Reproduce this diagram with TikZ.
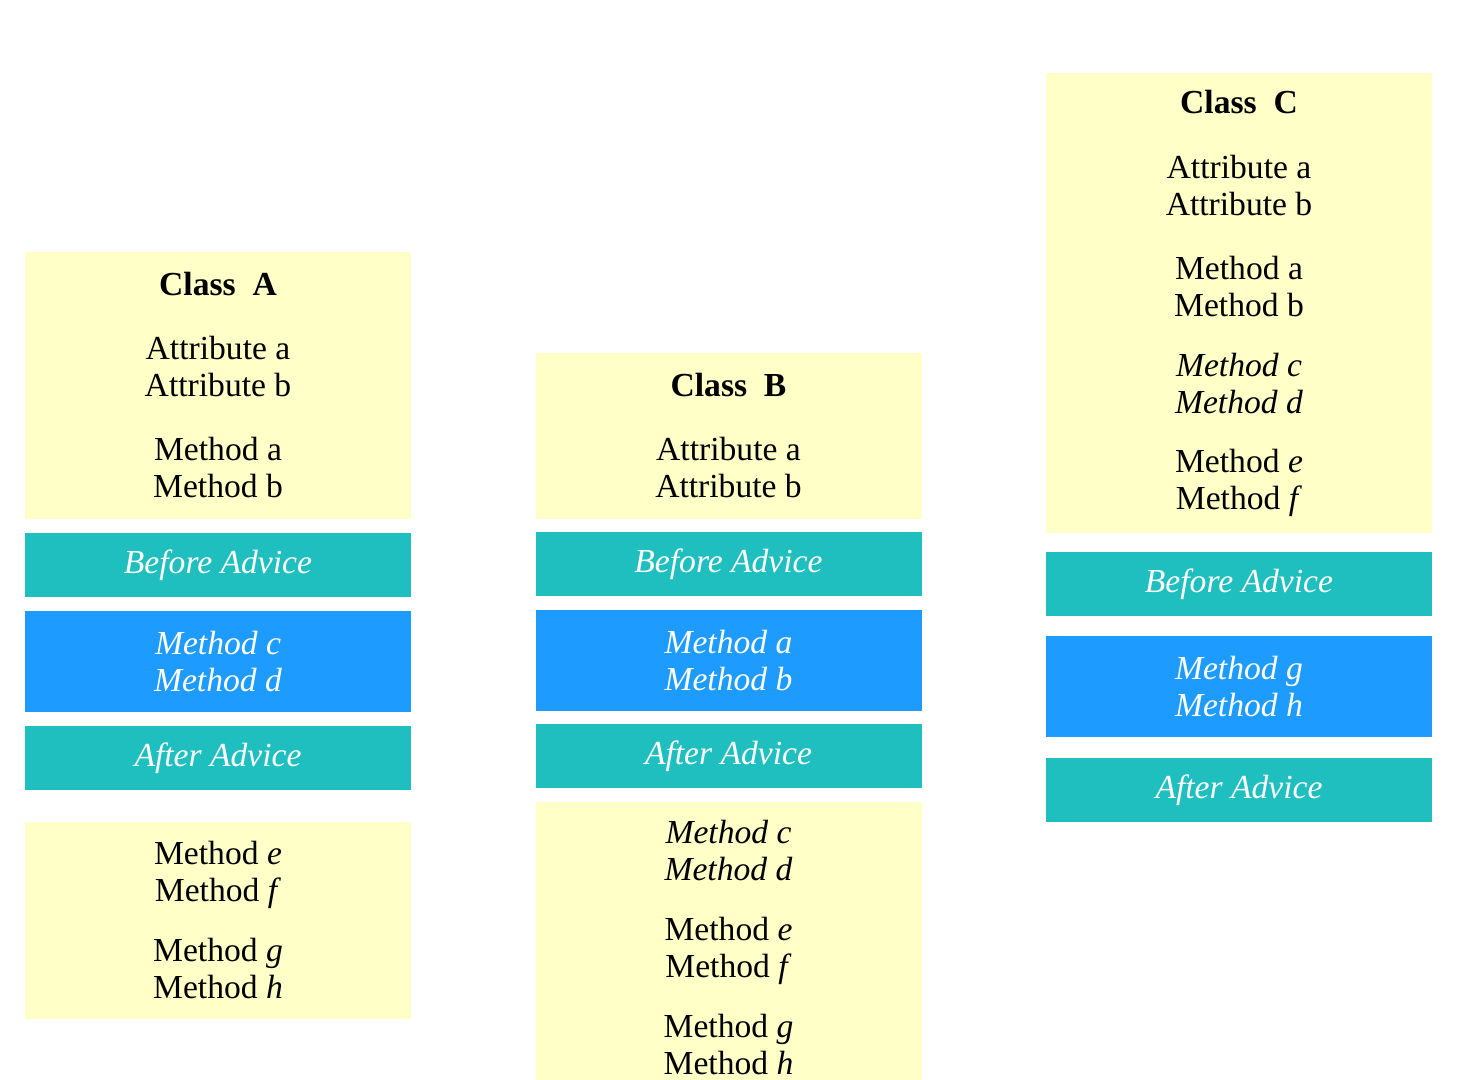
\documentclass[tikz,border=0pt]{standalone}
\usepackage{fontspec}
\setmainfont{Liberation Serif}
\definecolor{classyellow}{RGB}{255,255,200}
\definecolor{adviceteal}{RGB}{32,191,191}
\definecolor{wovenblue}{RGB}{30,155,255}

\tikzset{
  box/.style={rectangle, minimum width=193pt, inner sep=0pt, align=center,
    font=\fontsize{16.8}{18.5}\selectfont},
  classbox/.style={box, fill=classyellow, text=black},
  advicebox/.style={box, fill=adviceteal, text=white, minimum height=32pt,
    font=\fontsize{16.8}{18.5}\selectfont\itshape},
  wovenbox/.style={box, fill=wovenblue, text=white, minimum height=50.5pt,
    font=\fontsize{16.8}{18.5}\selectfont\itshape},
}

\begin{document}
\begin{tikzpicture}[x=0.5pt, y=-0.5pt]
  \useasboundingbox (0,0) rectangle (1468,1080);

  % Class A column
  \node[classbox, minimum height=133.5pt] (classA) at (218,385.5)
    {\textbf{Class\ \ A}\\[13.5pt] Attribute a\\ Attribute b\\[13.5pt] Method a\\ Method b};
  \node[advicebox] (beforeA) at (218,565) {Before Advice};
  \node[wovenbox] (wovenA) at (218,661.5) {Method c\\ Method d};
  \node[advicebox] (afterA) at (218,758) {After Advice};
  \node[classbox, minimum height=98.5pt] (restA) at (218,920.5)
    {Method \textit{e}\\ Method \textit{f}\\[11.5pt] Method \textit{g}\\ Method \textit{h}};

  % Class B column
  \node[classbox, minimum height=83pt] (classB) at (728.5,436)
    {\textbf{Class\ \ B}\\[13.5pt] Attribute a\\ Attribute b};
  \node[advicebox] (beforeB) at (728.5,564) {Before Advice};
  \node[wovenbox] (wovenB) at (728.5,660.5) {Method a\\ Method b};
  \node[advicebox] (afterB) at (728.5,756) {After Advice};
  \node[classbox, minimum height=146pt] (restB) at (728.5,948)
    {\textit{Method c}\\ \textit{Method d}\\[11.5pt] Method \textit{e}\\ Method \textit{f}\\[11.5pt]
     Method \textit{g}\\ Method \textit{h}};

  % Class C column
  \node[classbox, minimum height=230pt] (classC) at (1239,303)
    {\textbf{Class\ \ C}\\[14pt] Attribute a\\ Attribute b\\[13.5pt] Method a\\ Method b\\[11.5pt]
     \textit{Method c}\\ \textit{Method d}\\[11pt] Method \textit{e}\\ Method \textit{f}};
  \node[advicebox] (beforeC) at (1239,584) {Before Advice};
  \node[wovenbox] (wovenC) at (1239,686.5) {Method g\\ Method h};
  \node[advicebox] (afterC) at (1239,790) {After Advice};
\end{tikzpicture}
\end{document}
